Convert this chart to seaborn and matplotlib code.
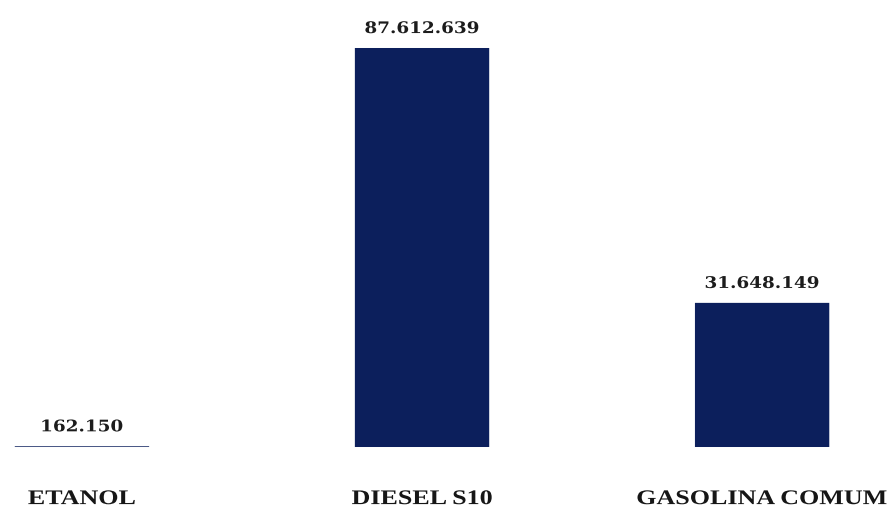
import matplotlib
matplotlib.use("Agg")
import matplotlib.pyplot as plt
from matplotlib.patheffects import AbstractPathEffect
from matplotlib.transforms import Affine2D
import seaborn as sns
import pandas as pd

categorias = ["ETANOL", "DIESEL S10", "GASOLINA COMUM"]
volumes = [162150, 87612639, 31648149]
rotulos = ["162.150", "87.612.639", "31.648.149"]

COR_BARRA = "#0c1f5c"


class EsticarHorizontal(AbstractPathEffect):
    """Widen a text path horizontally around its own centre."""

    def __init__(self, fator):
        super().__init__()
        self.fator = fator

    def draw_path(self, renderer, gc, tpath, affine, rgbFace=None):
        ext = tpath.get_extents()
        cx = (ext.x0 + ext.x1) / 2
        t = Affine2D().translate(-cx, 0).scale(self.fator, 1).translate(cx, 0) + affine
        renderer.draw_path(gc, tpath, t, rgbFace)


sns.set_theme(style="white")
df = pd.DataFrame({"produto": categorias, "volume": volumes})

fig = plt.figure(figsize=(8.91, 5.14), dpi=100)
ax = fig.add_axes([0, 0, 1, 1])
sns.barplot(data=df, x="produto", y="volume", color=COR_BARRA, saturation=1,
            width=0.395, ax=ax)

# keep sub-pixel bars (ETANOL) visible as a faint antialiased line
for barra in ax.patches:
    barra.set_snap(False)
    barra.set_linewidth(0)

ax.set_xlim(-0.241, 2.379)
ax.set_ylim(-14.71e6, 98.15e6)
ax.axis("off")

for i, (v, txt) in enumerate(zip(volumes, rotulos)):
    ax.annotate(txt, xy=(i, v), xytext=(0, 14), textcoords="offset points",
                ha="center", va="center", fontsize=11.5, fontweight="bold",
                family="DejaVu Serif", color="#1c1c1c",
                path_effects=[EsticarHorizontal(1.15)])
    ax.annotate(categorias[i], xy=(i, 0), xytext=(0, -37.5), textcoords="offset points",
                ha="center", va="center", fontsize=15, fontweight="bold",
                family="Liberation Serif", color="#161616",
                path_effects=[EsticarHorizontal(1.25)])

fig.savefig("out.png", dpi=100, facecolor="white")
